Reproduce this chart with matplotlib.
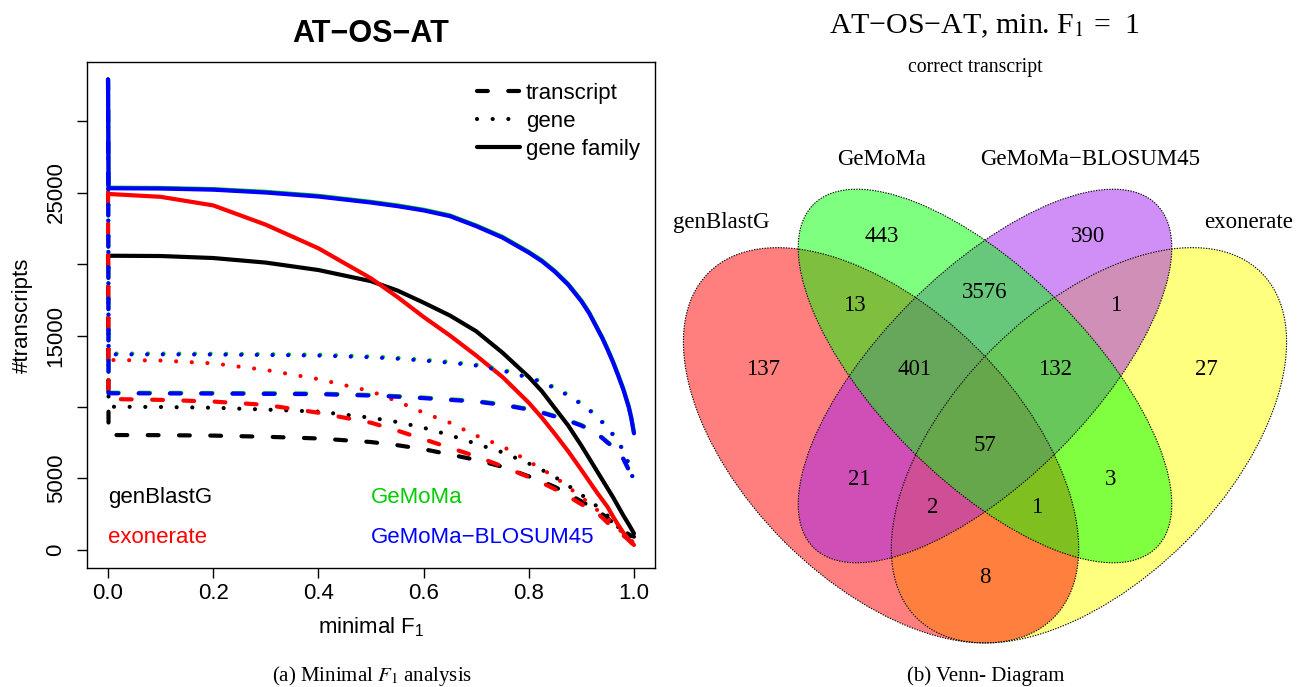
import matplotlib
matplotlib.use("Agg")
import matplotlib.pyplot as plt
from matplotlib.patches import Ellipse
from matplotlib.lines import Line2D

# ---------------------------------------------------------------------------
# Data
# ---------------------------------------------------------------------------
# minimal F1 thresholds
min_f1 = [0.0, 0.001, 0.1, 0.2, 0.3, 0.4, 0.5, 0.55, 0.6, 0.65, 0.7, 0.75, 0.8,
          0.825, 0.85, 0.875, 0.9, 0.915, 0.93, 0.94, 0.95, 0.96, 0.97, 0.98,
          0.99, 0.995, 1.0]

# number of transcripts reaching at least the threshold
genblastg_transcript = [20600, 8040, 8030, 8000, 7920, 7800, 7550, 7330, 7050, 6680,
                        6300, 5820, 5150, 4800, 4400, 3920, 3400, 3100, 2800, 2500,
                        2220, 1900, 1600, 1350, 1100, 1000, 930]
genblastg_gene = [20600, 10020, 10000, 9950, 9820, 9680, 9250, 8950, 8550, 8030,
                  7430, 6830, 6050, 5600, 5100, 4500, 3870, 3450, 3050, 2720,
                  2400, 2000, 1600, 1300, 1000, 950, 900]
genblastg_family = [20600, 20580, 20560, 20420, 20100, 19580, 18800, 18150, 17300, 16400,
                    15300, 13800, 12100, 11100, 9900, 8700, 7300, 6400, 5500, 4900,
                    4300, 3700, 3050, 2400, 1800, 1480, 1160]

exonerate_transcript = [25000, 10560, 10500, 10380, 10150, 9600, 8900, 8350, 7750, 7150,
                        6550, 5850, 5100, 4700, 4250, 3750, 3200, 2900, 2600, 2250,
                        1900, 1600, 1300, 1000, 700, 580, 490]
exonerate_gene = [25000, 13290, 13250, 13050, 12590, 11950, 11100, 10400, 9600, 8900,
                  8000, 7250, 6200, 5650, 5100, 4400, 3700, 3250, 2800, 2500,
                  2200, 1850, 1500, 1150, 800, 650, 500]
exonerate_family = [25000, 24900, 24700, 24100, 22750, 21100, 19000, 17700, 16300, 15000,
                    13600, 12100, 10300, 9250, 8100, 6900, 5600, 4800, 4000, 3500,
                    3000, 2350, 1750, 1200, 700, 500, 350]

gemoma_transcript = [32900, 11000, 10990, 10980, 10960, 10940, 10840, 10760, 10660, 10540,
                     10420, 10190, 9860, 9640, 9370, 9080, 8740, 8460, 8140, 7860,
                     7540, 7260, 6940, 6390, 5640, 5140, 4540]
gemoma_gene = [32900, 13740, 13740, 13730, 13700, 13660, 13540, 13440, 13310, 13160,
               12960, 12610, 12110, 11780, 11370, 10860, 10260, 9840, 9360, 8980,
               8560, 8120, 7630, 6960, 6060, 5460, 4760]
gemoma_family = [32900, 25340, 25320, 25240, 25050, 24770, 24350, 24100, 23800, 23400,
                 22700, 21900, 20850, 20250, 19500, 18600, 17450, 16600, 15550, 14850,
                 14050, 13200, 12250, 11250, 10050, 9250, 8200]

blosum_transcript = [32900, 10960, 10950, 10940, 10920, 10900, 10800, 10720, 10620, 10500,
                     10380, 10150, 9820, 9600, 9330, 9040, 8700, 8420, 8100, 7820,
                     7500, 7220, 6900, 6350, 5600, 5100, 4500]
blosum_gene = [32900, 13680, 13680, 13670, 13640, 13600, 13480, 13380, 13250, 13100,
               12900, 12550, 12050, 11720, 11310, 10800, 10200, 9780, 9300, 8920,
               8500, 8060, 7570, 6900, 6000, 5400, 4700]
blosum_family = [32900, 25300, 25280, 25200, 25000, 24720, 24300, 24050, 23750, 23350,
                 22650, 21850, 20800, 20200, 19450, 18550, 17400, 16550, 15500, 14800,
                 14000, 13150, 12200, 11200, 10000, 9200, 8160]

tool_names = ["genBlastG", "exonerate", "GeMoMa", "GeMoMa\u2212BLOSUM45"]
tool_colors = ["#000000", "#FF0000", "#00CD00", "#0000FF"]

level_names = ["transcript", "gene", "gene family"]

y_ticks = [0, 5000, 10000, 15000, 20000, 25000, 30000]
y_tick_labels = ["0", "5000", "", "15000", "", "25000", ""]
x_ticks = [0.0, 0.2, 0.4, 0.6, 0.8, 1.0]
x_tick_labels = ["0.0", "0.2", "0.4", "0.6", "0.8", "1.0"]

# Venn diagram (correct transcripts, min. F1 = 1)
venn_sets = ["genBlastG", "GeMoMa", "GeMoMa\u2212BLOSUM45", "exonerate"]
venn_colors = ["#FF0000", "#00FF00", "#A020F0", "#FFFF00"]
# membership: (genBlastG, GeMoMa, GeMoMa-BLOSUM45, exonerate)
venn_regions = [(1, 0, 0, 0), (0, 1, 0, 0), (0, 0, 1, 0), (0, 0, 0, 1),
                (1, 1, 0, 0), (0, 1, 1, 0), (0, 0, 1, 1), (1, 0, 1, 0),
                (1, 0, 0, 1), (0, 1, 0, 1), (1, 1, 1, 0), (0, 1, 1, 1),
                (1, 0, 1, 1), (1, 1, 0, 1), (1, 1, 1, 1)]
venn_counts = [137, 443, 390, 27, 13, 3576, 1, 21, 8, 3, 401, 132, 2, 1, 57]

# ---------------------------------------------------------------------------
# Figure
# ---------------------------------------------------------------------------
W, H, DPI = 1303, 687, 100
plt.rcParams["mathtext.fontset"] = "custom"
plt.rcParams["mathtext.rm"] = "Liberation Sans"
plt.rcParams["mathtext.it"] = "Liberation Sans:italic"
plt.rcParams["mathtext.bf"] = "Liberation Sans:bold"
SANS = ["Liberation Sans", "DejaVu Sans"]
SERIF = ["Liberation Serif", "DejaVu Serif"]
plt.rcParams["font.family"] = SANS

fig = plt.figure(figsize=(W / DPI, H / DPI), dpi=DPI)
fig.patch.set_facecolor("white")


def fx(px):
    return px / W


def fy(py):
    return 1 - py / H


# ---------------------------- left panel ----------------------------------
ax = fig.add_axes([fx(87), fy(568), (655 - 87) / W, (568 - 62) / H])
ax.set_xlim(-0.04, 1.04)
ax.set_ylim(-1260, 34130)

LW = 3.0
styles = {
    "transcript": dict(linestyle=(0, (2.6, 4.9))),
    "gene": dict(linestyle=(0, (0.01, 3.75))),
    "gene family": dict(linestyle="-"),
}

series = [
    (genblastg_transcript, genblastg_gene, genblastg_family),
    (exonerate_transcript, exonerate_gene, exonerate_family),
    (gemoma_transcript, gemoma_gene, gemoma_family),
    (blosum_transcript, blosum_gene, blosum_family),
]

for color, tool_series in zip(tool_colors, series):
    for level, values in zip(level_names, tool_series):
        ax.plot(min_f1, values, color=color, lw=LW,
                dash_capstyle="round", solid_capstyle="round",
                solid_joinstyle="round", dash_joinstyle="round",
                **styles[level])

ax.set_xticks(x_ticks)
ax.set_xticklabels(x_tick_labels)
ax.set_yticks(y_ticks)
ax.set_yticklabels(y_tick_labels, rotation=90, va="center")
ax.tick_params(axis="both", direction="out", length=7.2, width=1.0,
               labelsize=16, colors="black")
ax.tick_params(axis="x", pad=3.5)
ax.tick_params(axis="y", pad=7.5)
for sp in ax.spines.values():
    sp.set_linewidth(1.0)
    sp.set_color("black")

# level legend
handles = [Line2D([0], [0], color="black", lw=LW, dash_capstyle="round",
                  solid_capstyle="round", **styles[lv]) for lv in level_names]
leg = ax.legend(handles, level_names, loc="upper left",
                bbox_to_anchor=((477 - 87) / 568, (568 - 83) / 506),
                frameon=False, fontsize=16, handlelength=1.95,
                handletextpad=0.25, labelspacing=0.31, borderpad=0,
                borderaxespad=0)

# tool colour key
key_pos = [(0.0, 3700), (0.0, 900), (0.5, 3700), (0.5, 900)]
for name, color, (kx, ky) in zip(tool_names, tool_colors, key_pos):
    ax.text(kx, ky, name, color=color, fontsize=16, ha="left", va="center")

fig.text(fx(371), fy(42), "AT\u2212OS\u2212AT", fontsize=22, fontweight="bold",
         ha="center", va="baseline")
fig.text(fx(22), fy(315), "#transcripts", fontsize=16, rotation=90,
         ha="center", va="center")
fig.text(fx(371), fy(627), "minimal F$_1$", fontsize=16, ha="center", va="center")

fig.text(fx(372), fy(676), "(a) Minimal $F_1$ analysis", fontsize=15,
         family=SERIF, math_fontfamily="stix", ha="center", va="center")

# ---------------------------- right panel ---------------------------------
S = 693.0          # pixels per Venn unit
U0, V0 = 638.5, 771.0
vax = fig.add_axes([fx(660), 0, (W - 660) / W, 1])
vax.set_xlim((660 - U0) / S, (W - U0) / S)
vax.set_ylim((V0 - H) / S, V0 / S)
vax.axis("off")

# ellipse layout: centre u, centre v, semi-axis a, semi-axis b, angle
ellipse_layout = [
    (0.35, 0.47, 0.352, 0.197, -45),
    (0.50, 0.57, 0.35, 0.151, -45),
    (0.50, 0.57, 0.35, 0.151, 45),
    (0.65, 0.47, 0.352, 0.197, 45),
]
draw_order = [3, 0, 2, 1]
for z, i in enumerate(draw_order):
    cu, cv, a, b, ang = ellipse_layout[i]
    vax.add_patch(Ellipse((cu, cv), 2 * a, 2 * b, angle=ang,
                          facecolor=venn_colors[i], alpha=0.5,
                          edgecolor="none", zorder=1 + z))
for cu, cv, a, b, ang in ellipse_layout:
    vax.add_patch(Ellipse((cu, cv), 2 * a, 2 * b, angle=ang, fill=False,
                          edgecolor="black", lw=0.8, linestyle=(0, (1.2, 1.2)),
                          zorder=10))

# region label positions (Venn units)
region_pos = {
    (1, 0, 0, 0): (0.180, 0.580), (0, 1, 0, 0): (0.351, 0.771),
    (0, 0, 1, 0): (0.649, 0.771), (0, 0, 0, 1): (0.820, 0.580),
    (1, 1, 0, 0): (0.311, 0.671), (0, 1, 1, 0): (0.500, 0.690),
    (0, 0, 1, 1): (0.689, 0.671), (1, 0, 1, 0): (0.319, 0.421),
    (1, 0, 0, 1): (0.500, 0.279), (0, 1, 0, 1): (0.681, 0.421),
    (1, 1, 1, 0): (0.399, 0.580), (0, 1, 1, 1): (0.601, 0.580),
    (1, 0, 1, 1): (0.425, 0.380), (1, 1, 0, 1): (0.575, 0.380),
    (1, 1, 1, 1): (0.500, 0.470),
}
for reg, cnt in zip(venn_regions, venn_counts):
    px, py = region_pos[reg]
    vax.text(px, py, str(cnt), fontsize=16.5, family=SERIF,
             ha="center", va="center", zorder=20)

set_label_pos = [(0.119, 0.792), (0.351, 0.882), (0.651, 0.882), (0.881, 0.792)]
for name, (px, py) in zip(venn_sets, set_label_pos):
    vax.text(px, py, name, fontsize=16.5, family=SERIF,
             ha="center", va="center", zorder=20)

fig.text(fx(985), fy(33), "AT\u2212OS\u2212AT, min. F$_1$ =  1", fontsize=21.5,
         family=SERIF, math_fontfamily="stix", ha="center", va="baseline")
fig.text(fx(975), fy(72), "correct transcript", fontsize=14.2, family=SERIF,
         ha="center", va="baseline")
fig.text(fx(986), fy(676), "(b) Venn- Diagram", fontsize=15, family=SERIF,
         ha="center", va="center")

fig.savefig("out.png", dpi=DPI, facecolor="white")
